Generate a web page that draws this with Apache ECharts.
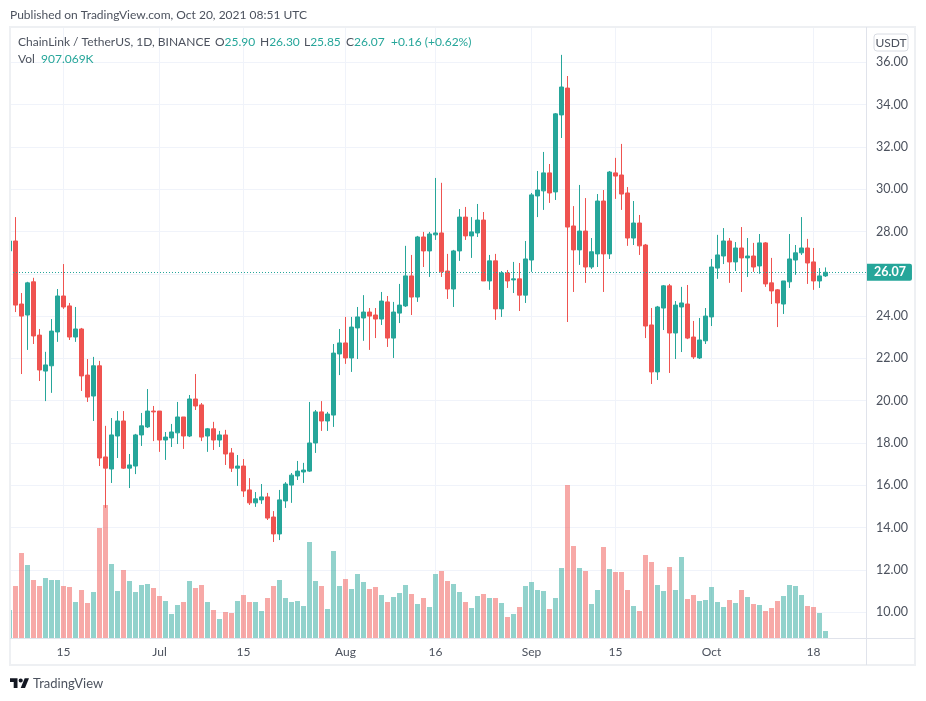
<!doctype html>
<meta charset="utf-8">
<title>ChainLink / TetherUS</title>
<style>
	html, body { margin: 0; background: #fff; }
	#chart { width: 926px; height: 701px; }
</style>
<div id="chart"></div>
<script src="https://cdn.jsdelivr.net/npm/echarts@6/dist/echarts.min.js"></script>
<script>
	// one entry a day, Jun 6 to Oct 20 2021
	const opens = [27.08,27.55,24.57,24.05,25.62,23.10,21.40,21.65,23.25,24.95,24.48,23.01,23.39,21.21,20.22,21.65,17.34,16.77,18.33,19.04,16.81,16.91,18.38,18.76,19.51,19.51,18.14,18.24,18.48,19.23,18.33,20.08,19.80,18.33,18.67,18.14,18.38,17.53,16.81,16.91,15.78,15.17,15.31,15.45,14.50,13.70,15.26,16.01,16.44,16.63,16.67,18.00,19.47,19.04,19.32,22.21,22.73,22.02,23.44,23.91,24.19,24.05,23.86,24.67,22.96,24.14,24.48,25.90,24.90,27.74,27.08,27.84,27.93,26.13,25.28,27.08,28.68,27.79,27.93,28.54,25.66,26.61,24.34,26.04,25.71,25.76,24.99,26.65,29.68,29.92,30.77,29.87,33.51,34.78,28.26,27.13,28.02,26.32,26.94,29.44,26.94,30.77,30.67,29.82,27.69,28.40,27.36,23.58,21.36,24.38,25.43,23.20,24.43,24.57,23.01,22.02,22.83,23.96,26.27,26.84,27.55,26.56,27.22,26.75,26.84,26.37,27.46,25.57,25.24,24.57,25.62,26.65,26.99,27.22,26.56,25.66,25.90];
	const closes = [27.55,24.52,24.00,25.57,23.06,21.45,21.69,23.29,24.95,24.43,23.01,23.39,21.17,20.17,21.65,17.29,16.81,18.38,19.04,16.81,16.96,18.38,18.81,19.51,19.47,18.14,18.28,18.52,19.23,18.33,20.08,19.75,18.28,18.67,18.14,18.38,17.48,16.81,16.91,15.73,15.17,15.36,15.45,14.45,13.70,15.31,16.06,16.48,16.67,16.72,18.00,19.47,19.04,19.37,22.25,22.73,22.02,23.48,23.96,24.19,24.00,23.86,24.71,22.96,24.19,24.52,25.90,24.90,27.74,27.08,27.88,27.93,26.09,25.28,27.08,28.68,27.79,27.98,28.54,25.66,26.61,24.34,26.04,25.66,25.76,24.99,26.70,29.73,29.96,30.77,29.82,33.56,34.83,28.21,27.13,28.02,26.32,27.04,29.44,26.94,30.81,30.62,29.77,27.69,28.40,27.32,23.53,21.36,24.43,25.43,23.20,24.52,24.62,22.96,22.07,22.87,24.00,26.32,26.89,27.55,26.56,27.22,26.75,26.84,26.32,27.46,25.52,25.19,24.62,25.66,26.70,26.99,27.22,26.51,25.66,25.90,26.07];
	const lows = [27.08,24.19,21.26,22.40,22.68,20.93,19.98,20.37,22.78,24.34,22.87,22.78,20.46,19.94,19.04,16.91,14.93,16.11,17.29,16.77,15.87,16.53,17.86,18.71,18.09,17.58,17.20,17.81,17.95,17.72,18.28,19.56,18.09,17.58,17.67,17.81,16.96,16.63,15.97,15.45,15.07,14.98,15.12,14.36,13.32,13.41,14.93,15.17,16.25,16.11,16.63,17.53,18.57,18.57,18.76,21.21,21.74,21.36,21.97,22.83,22.40,22.96,23.58,22.54,22.02,23.67,24.43,24.05,24.67,26.32,25.85,27.60,25.85,24.81,24.43,26.61,27.60,26.75,27.74,25.66,25.24,23.82,23.96,25.33,25.09,24.24,24.62,26.09,28.68,29.02,29.35,29.49,32.42,23.72,25.14,26.42,25.57,26.23,26.32,25.14,26.70,29.54,29.02,27.32,27.36,26.89,22.96,20.79,20.98,23.34,21.31,21.97,22.30,22.91,21.97,21.97,22.68,23.53,25.76,26.46,25.57,26.13,25.14,25.85,26.09,26.00,25.38,24.57,23.48,24.10,25.33,25.95,26.89,25.52,25.24,25.33,25.85];
	const highs = [27.55,28.68,25.09,25.62,25.81,23.39,22.31,23.86,25.28,26.46,24.62,24.43,23.44,21.97,22.07,21.88,18.81,19.18,19.51,19.51,17.48,18.43,19.42,20.55,19.75,19.51,18.52,18.90,19.94,19.23,20.27,21.26,19.89,18.71,19.00,18.57,18.62,17.76,17.43,17.24,16.34,15.68,16.06,15.64,14.78,15.78,16.15,16.58,17.15,17.06,19.94,19.56,19.98,19.47,22.68,23.39,23.96,23.96,24.43,24.99,24.38,24.38,25.14,24.95,24.67,25.52,27.32,26.89,27.79,27.98,27.98,30.53,30.30,26.94,27.13,29.06,29.16,28.68,29.30,28.92,26.89,26.94,26.13,26.18,26.56,26.51,27.55,29.82,30.86,31.76,31.19,33.60,36.35,35.35,29.20,30.20,29.58,27.69,29.77,29.96,30.86,31.48,32.14,30.10,29.44,28.78,27.41,24.38,24.48,25.47,25.52,24.71,25.38,25.47,23.77,23.91,24.38,26.70,27.84,28.16,27.69,27.50,28.21,27.69,27.46,27.88,27.50,26.75,25.28,25.66,27.88,27.36,28.68,27.65,27.22,26.27,26.30];
	// volume in thousands
	const volumes = [3640,6760,11050,9490,7540,6760,7800,7540,7540,6760,6630,4680,6240,4550,5980,14300,17290,9620,6110,8840,7410,5980,6890,7020,6500,5460,4810,3120,4290,4680,7410,6500,6890,4680,3640,2470,3380,3250,4810,5590,4680,4680,3510,5200,6760,7540,5200,4680,4810,4160,12480,7410,6760,3770,11310,6760,7670,6370,8320,7280,6370,6630,5590,4680,5330,5850,6890,5720,4420,5200,4030,8320,8710,7410,7020,5980,4680,3900,5460,5720,5200,5200,4550,2730,3120,4030,6760,7280,6240,6110,3770,5200,9100,19890,11960,9100,8710,4420,6240,11830,8970,8580,8580,6240,4160,3510,10790,9880,6890,6110,9230,6240,10530,5070,5590,4810,4940,6630,4680,4030,4940,4550,6240,5330,4420,4290,3510,3900,4810,5460,6890,6760,5590,4160,4030,3250,907];
	const priceTicks = [10,12,14,16,18,20,22,24,26,28,30,32,34,36];
	const dateTicks = [9,25,39,56,71,87,101,117,134];
	const dateLabels = ['15','Jul','15','Aug','16','Sep','15','Oct','18'];
	const lastPrice = 26.07;

	const UP = '#26a69a', DOWN = '#ef5350';
	const FONT = 'Lato, sans-serif';
	const TEXT = '#4c525e';

	const candleData = opens.map((o, i) => [i, o, closes[i], lows[i], highs[i]]);
	const volumeData = volumes.map((v, i) => ({
		value: [i, v],
		itemStyle: { color: closes[i] >= opens[i] ? 'rgba(38,166,154,0.5)' : 'rgba(239,83,80,0.5)' }
	}));
	const tickName = {};
	dateTicks.forEach((d, i) => { tickName[d] = dateLabels[i]; });

	// header text, key then value, placed one after the other
	const headerRich = {
		k: { fill: TEXT, font: '12px ' + FONT },
		v: { fill: UP, font: '12px ' + FONT }
	};
	const headerText = (x, y, text) => ({
		type: 'text', z: 11, silent: true, x: x, y: y,
		style: { text: text, verticalAlign: 'middle', rich: headerRich }
	});

	const chart = echarts.init(document.getElementById('chart'), null, { renderer: 'canvas' });
	chart.setOption({
		animation: false,
		backgroundColor: '#fff',
		textStyle: { fontFamily: FONT },
		grid: { left: 10, top: 28, width: 856, height: 610, containLabel: false },
		xAxis: {
			type: 'value',
			min: 0.083,
			max: 142.75,
			axisLine: { show: false },
			axisTick: { show: false, customValues: dateTicks },
			axisLabel: {
				customValues: dateTicks,
				formatter: v => tickName[v],
				color: TEXT,
				fontFamily: FONT,
				fontSize: 12,
				margin: 8,
				hideOverlap: false
			},
			splitLine: { show: true, lineStyle: { color: '#f0f3fa', width: 1 } }
		},
		yAxis: [{
			type: 'value',
			position: 'right',
			min: 8.78,
			max: 37.62,
			axisLine: { show: false },
			axisTick: { show: false, customValues: priceTicks },
			axisLabel: {
				customValues: priceTicks,
				formatter: v => v.toFixed(2),
				color: TEXT,
				fontFamily: FONT,
				fontSize: 12.5,
				margin: 10,
				padding: [6, 0, 0, 0]
			},
			splitLine: { show: true, lineStyle: { color: '#f0f3fa', width: 1 } }
		}, {
			type: 'value',
			min: 0,
			max: 79300,
			show: false
		}],
		series: [{
			type: 'bar',
			yAxisIndex: 1,
			barWidth: 5,
			data: volumeData,
			z: 2
		}, {
			type: 'candlestick',
			yAxisIndex: 0,
			barWidth: 4,
			data: candleData,
			itemStyle: {
				color: UP, color0: DOWN,
				borderColor: UP, borderColor0: DOWN,
				borderWidth: 1
			},
			z: 3,
			markLine: {
				silent: true,
				symbol: 'none',
				animation: false,
				lineStyle: { color: UP, type: [1, 2], width: 1 },
				label: {
					position: 'end',
					distance: 0,
					formatter: lastPrice.toFixed(2),
					color: '#fff',
					fontFamily: FONT,
					fontWeight: 'bold',
					fontSize: 12.5,
					backgroundColor: UP,
					padding: [3, 6, 1, 8],
					borderRadius: [0, 2, 2, 0]
				},
				data: [{ yAxis: lastPrice }]
			}
		}],
		graphic: [
			// the first day is cut by the left edge of the plot
			{ type: 'rect', z: 9, silent: true,
				shape: { x: 0, y: 28, width: 9, height: 611 },
				style: { fill: '#fff' } },
			{ type: 'rect', z: 10, silent: true,
				shape: { x: 10, y: 27, width: 905, height: 638 },
				style: { fill: 'none', stroke: '#eef0f3', lineWidth: 2 } },
			{ type: 'line', z: 10, silent: true,
				shape: { x1: 866.5, y1: 27, x2: 866.5, y2: 665 },
				style: { stroke: '#e0e3eb', lineWidth: 1 } },
			{ type: 'line', z: 10, silent: true,
				shape: { x1: 10, y1: 638.5, x2: 915, y2: 638.5 },
				style: { stroke: '#e0e3eb', lineWidth: 1 } },
			{ type: 'rect', z: 10, silent: true,
				shape: { x: 874, y: 34, width: 34, height: 17, r: 3 },
				style: { fill: '#fff', stroke: '#d9dce3', lineWidth: 1 } },
			{ type: 'text', z: 11, silent: true, x: 891, y: 43,
				style: { text: 'USDT', fill: TEXT, font: '12px ' + FONT, align: 'center', verticalAlign: 'middle' } },
			{ type: 'text', z: 11, silent: true, x: 10, y: 15,
				style: { text: 'Published on TradingView.com, Oct 20, 2021 08:51 UTC', fill: TEXT, font: '12px ' + FONT, verticalAlign: 'middle' } },
			headerText(18, 42, '{k|ChainLink / TetherUS, 1D, BINANCE}'),
			headerText(215, 42, '{k|O}{v|25.90}'),
			headerText(260, 42, '{k|H}{v|26.30}'),
			headerText(304, 42, '{k|L}{v|25.85}'),
			headerText(346, 42, '{k|C}{v|26.07}'),
			headerText(391, 42, '{v|+0.16 (+0.62%)}'),
			headerText(18, 59, '{k|Vol}'),
			headerText(41, 59, '{v|907.069K}'),
			{ type: 'polygon', z: 11, silent: true,
				shape: { points: [[10, 678.3], [17.5, 678.3], [17.5, 687.9], [13.7, 687.9], [13.7, 682], [10, 682]] },
				style: { fill: '#131722' } },
			{ type: 'polygon', z: 11, silent: true,
				shape: { points: [[25, 687.9], [20.7, 687.9], [24.7, 678.3], [29, 678.3]] },
				style: { fill: '#131722' } },
			{ type: 'circle', z: 11, silent: true,
				shape: { cx: 20.7, cy: 680.5, r: 2.1 },
				style: { fill: '#131722' } },
			{ type: 'text', z: 11, silent: true, x: 33, y: 684,
				style: { text: 'TradingView', fill: TEXT, font: '13px ' + FONT, verticalAlign: 'middle' } }
		]
	});
</script>
